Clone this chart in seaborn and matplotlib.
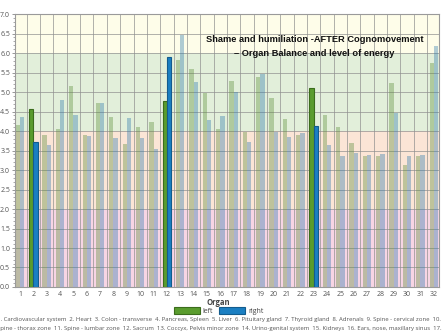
import matplotlib
matplotlib.use("Agg")
import matplotlib.pyplot as plt
from matplotlib.patches import Patch
from matplotlib.ticker import MultipleLocator, FixedLocator
import seaborn as sns
import pandas as pd

# Organ numbers along the x axis
organs = [str(i) for i in range(1, 33)]
# Energy level per organ, left and right side
left_vals = [4.16, 4.57, 3.90, 4.05, 5.16, 3.89, 4.71, 4.35, 3.68, 4.10, 4.24,
             4.78, 5.83, 5.60, 4.97, 4.05, 5.29, 3.97, 5.38, 4.84, 4.30, 3.91,
             5.10, 4.41, 4.10, 3.69, 3.35, 3.37, 5.22, 3.14, 3.36, 5.74]
right_vals = [4.37, 3.72, 3.64, 4.79, 4.42, 3.88, 4.72, 3.82, 4.33, 3.83, 3.53,
              5.90, 6.46, 5.26, 4.28, 4.38, 5.00, 3.71, 5.46, 3.98, 3.85, 3.94,
              4.12, 3.64, 3.35, 3.44, 3.38, 3.41, 4.45, 3.37, 3.38, 6.17]
# Organs drawn in full colour
highlighted = ["2", "12", "23"]
sides = ["left", "right"]

# Energy zones: (low, high, colour)
zones = [(0, 2, "#f7d5e4"), (2, 4, "#fbe5d6"), (4, 6, "#e2efda"), (6, 7, "#fefde9")]

title_lines = ["Shame and humiliation -AFTER Cognomovement",
               "\u2013 Organ Balance and level of energy"]
caption_lines = [
    "1. Cardiovascular system  2. Heart  3. Colon - transverse  4. Pancreas, Spleen  5. Liver  "
    "6. Pituitary gland  7. Thyroid gland  8. Adrenals  9. Spine - cervical zone  10.",
    "Spine - thorax zone  11. Spine - lumbar zone  12. Sacrum  13. Coccyx, Pelvis minor zone  "
    "14. Urino-genital system  15. Kidneys  16. Ears, nose, maxillary sinus  17.",
]

df = pd.DataFrame({
    "organ": organs * 2,
    "value": left_vals + right_vals,
    "Organ": ["left"] * len(organs) + ["right"] * len(organs),
})

solid = {"left": "#5a9c2e", "right": "#1b7fc2"}
edges = {"left": "#3b6d1c", "right": "#135c8e"}

sns.set_style("white")
plt.rcParams["font.family"] = ["Open Sans", "DejaVu Sans"]

fig = plt.figure(figsize=(4.46, 3.35), dpi=100)
ax = fig.add_axes([0.0336, 0.1433, 0.9504, 0.8147])

for lo, hi, col in zones:
    ax.axhspan(lo, hi, color=col, zorder=0, lw=0)

sns.barplot(data=df, x="organ", y="value", hue="Organ", order=organs,
            hue_order=sides, palette=solid, width=0.64, gap=0,
            alpha=0.38, linewidth=0, legend=False, ax=ax, zorder=2)

for side, cont in zip(sides, ax.containers):
    for organ, bar in zip(organs, cont):
        if organ in highlighted:
            bar.set_alpha(1)
            bar.set_facecolor(solid[side])
            bar.set_edgecolor(edges[side])
            bar.set_linewidth(0.8)
            bar.set_zorder(3)

ax.set_xlim(-0.38, 31.38)
ax.set_ylim(0, 7)
ax.yaxis.set_major_locator(MultipleLocator(0.5))
ax.yaxis.set_minor_locator(MultipleLocator(0.1))
ax.yaxis.set_major_formatter(matplotlib.ticker.FormatStrFormatter("%.1f"))
ax.xaxis.set_minor_locator(FixedLocator([i + 0.5 for i in range(31)]))
ax.set_axisbelow(True)
ax.grid(which="major", axis="y", color="#8f8f8f", lw=0.7, alpha=0.7, zorder=1)
ax.grid(which="minor", axis="x", color="#8f8f8f", lw=0.7, alpha=0.7, zorder=1)
ax.grid(which="major", axis="x", visible=False)
ax.set_xlabel("")
ax.set_ylabel("")
ax.tick_params(axis="y", which="major", length=2.5, width=0.6, color="#888888",
               labelsize=5, labelcolor="#555555", pad=1, left=True)
ax.tick_params(axis="y", which="minor", length=1.5, width=0.5, color="#888888", left=True)
ax.tick_params(axis="x", which="both", length=0, labelsize=5, labelcolor="#555555", pad=3)
for s in ax.spines.values():
    s.set_color("#9a9a9a")
    s.set_linewidth(0.8)

for i, line in enumerate(title_lines):
    ax.text(0.707, 0.905 - i * 0.049, line, transform=ax.transAxes, ha="center",
            va="center", fontsize=6.7, fontweight="bold", color="#111111",
            family=["Liberation Sans Narrow", "Liberation Sans", "DejaVu Sans"], zorder=5)

handles = [Patch(facecolor=solid[s], edgecolor=edges[s], lw=0.8) for s in sides]
leg = fig.legend(handles, sides, title="Organ", loc="upper center",
                 bbox_to_anchor=(0.49, 0.12), ncol=2, frameon=False,
                 fontsize=5, title_fontsize=5.5, handlelength=3.8, handleheight=1.1,
                 columnspacing=0.8, handletextpad=0.4, borderpad=0, labelspacing=0)
leg.get_title().set_fontweight("bold")
leg.get_title().set_color("#444444")
for t in leg.get_texts():
    t.set_color("#444444")

for i, line in enumerate(caption_lines):
    fig.text(0.492, 0.047 - i * 0.027, line, ha="center", va="center",
             fontsize=4.3, color="#555555")

fig.savefig("out.png", dpi=100)
